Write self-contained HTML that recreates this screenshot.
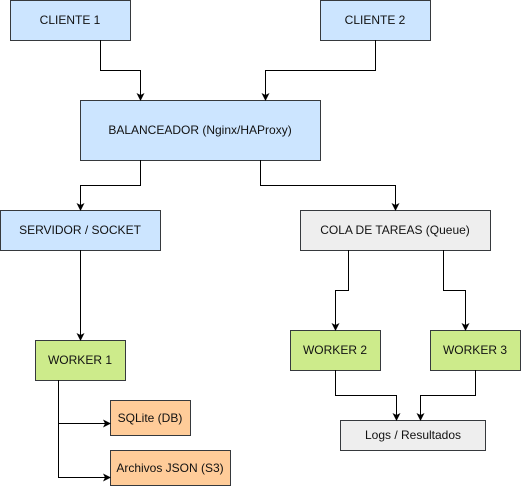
<!DOCTYPE html>
<html><head><style>
body{margin:0;background:#fff;}
svg{display:block;font-family:"Liberation Sans",Arial,sans-serif;font-size:12px;}
</style></head><body>
<svg width="521" height="486" viewBox="0 0 521 486">
<defs><marker id="a" markerWidth="8" markerHeight="8" refX="7" refY="4" orient="auto" markerUnits="userSpaceOnUse"><path d="M0,0 L8,4 L0,8 L2,4 Z" fill="#000"/></marker></defs>
<g stroke="#36393d" stroke-width="1">
<rect x="10.5" y="0.5" width="120" height="40" fill="#cce5ff"/>
<rect x="320.5" y="0.5" width="110" height="40" fill="#cce5ff"/>
<rect x="80.5" y="100.5" width="240" height="60" fill="#cce5ff"/>
<rect x="0.5" y="210.5" width="160" height="40" fill="#cce5ff"/>
<rect x="300.5" y="210.5" width="190" height="40" fill="#eeeeee"/>
<rect x="35.5" y="340.5" width="90" height="40" fill="#cdeb8b"/>
<rect x="290.5" y="330.5" width="90" height="40" fill="#cdeb8b"/>
<rect x="430.5" y="330.5" width="90" height="40" fill="#cdeb8b"/>
<rect x="340.5" y="420.5" width="145" height="30" fill="#eeeeee"/>
<rect x="110.5" y="400.5" width="80" height="35" fill="#ffcc99"/>
<rect x="110.5" y="450.5" width="120" height="35" fill="#ffcc99"/>
</g>
<g fill="none" stroke="#000" stroke-width="1" marker-end="url(#a)">
<path d="M100.5,40 V70.5 H140.5 V100"/>
<path d="M375.5,40 V70.5 H265.5 V100"/>
<path d="M140.5,160 V185.5 H80.5 V210"/>
<path d="M260.5,160 V185.5 H395.5 V210"/>
<path d="M80.5,250 V340"/>
<path d="M348.5,250 V290.5 H335.5 V330"/>
<path d="M443.5,250 V290.5 H465.5 V330"/>
<path d="M335.5,370 V395.5 H396.5 V420"/>
<path d="M475.5,370 V395.5 H420.5 V420"/>
<path d="M58.5,380 V423.5 H110"/>
<path d="M58.5,423 V477.5 H110"/>
</g>
<g fill="#111" text-anchor="middle" dominant-baseline="central">
<text x="70" y="20">CLIENTE 1</text>
<text x="375" y="20">CLIENTE 2</text>
<text x="200" y="130">BALANCEADOR (Nginx/HAProxy)</text>
<text x="80" y="230">SERVIDOR / SOCKET</text>
<text x="395" y="230">COLA DE TAREAS (Queue)</text>
<text x="80" y="360">WORKER 1</text>
<text x="335" y="350">WORKER 2</text>
<text x="475" y="350">WORKER 3</text>
<text x="413" y="435">Logs / Resultados</text>
<text x="150" y="418">SQLite (DB)</text>
<text x="170" y="468">Archivos JSON (S3)</text>
</g>
</svg>
</body></html>
